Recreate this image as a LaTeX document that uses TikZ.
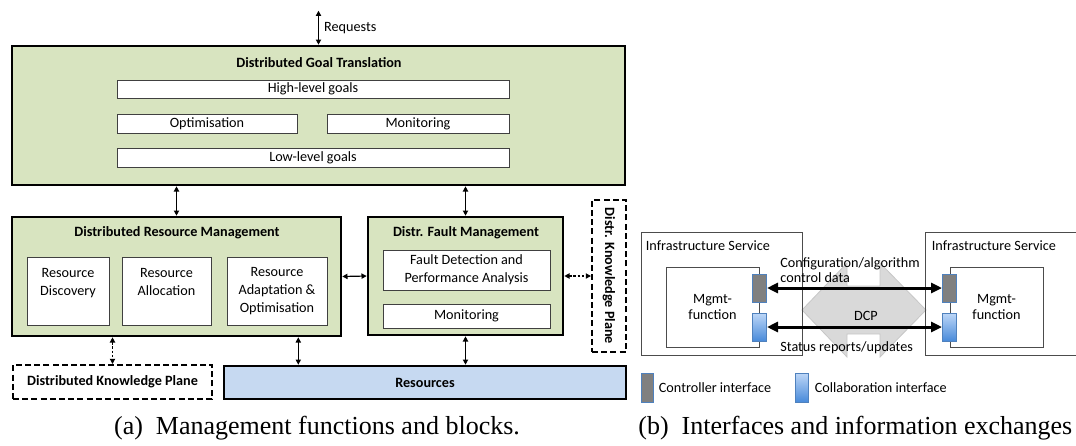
\documentclass[tikz,border=0pt]{standalone}
\usepackage{fontspec}
\usepackage{graphicx}
\setmainfont{Carlito}
\newfontfamily\capfont{Liberation Serif}
\usepackage{tikz}
\usetikzlibrary{arrows.meta,positioning}

\definecolor{blockgreen}{RGB}{216,228,192}
\definecolor{resblue}{RGB}{198,217,241}
\definecolor{ifborder}{RGB}{79,129,189}
\definecolor{ifgray}{RGB}{128,128,128}
\definecolor{coltop}{RGB}{190,215,247}
\definecolor{colbot}{RGB}{72,138,218}

\begin{document}
\begin{tikzpicture}[x=0.5pt,y=-0.5pt,
    font=\fontsize{7.1pt}{9.2pt}\selectfont,
    >={Triangle[length=2.6pt,width=2.6pt]},
    block/.style={draw,line width=1.3pt,fill=blockgreen,inner sep=0pt},
    sub/.style={draw=black!75,line width=0.5pt,fill=white,align=center,inner sep=0pt},
    head/.style={inner sep=0pt,font=\fontsize{7.1pt}{9.2pt}\selectfont\bfseries},
    plane/.style={draw,line width=1pt,dash pattern=on 3pt off 1.6pt,inner sep=0pt,
      font=\fontsize{7.1pt}{9.2pt}\selectfont\bfseries},
    link/.style={<->,line width=0.6pt},
    box/.style={draw=black!70,line width=0.5pt,inner sep=0pt,align=center,
      font=\fontsize{7.1pt}{8.3pt}\selectfont},
    ctl/.style={draw=ifborder,fill=ifgray,line width=0.5pt,minimum width=7pt,minimum height=14pt,inner sep=0pt},
    col/.style={draw=ifborder,top color=coltop,bottom color=colbot,line width=0.5pt,minimum width=7pt,minimum height=14pt,inner sep=0pt},
    bigarrow/.style={{Triangle[length=5.5pt,width=5pt]}-{Triangle[length=5.5pt,width=5pt]},line width=1.5pt},
    caption/.style={inner sep=0pt,font=\capfont\fontsize{13pt}{15pt}\selectfont}]
  \useasboundingbox (0,0) rectangle (1076,445);

  % (a) management functions and blocks
  \node[block,minimum width=306.5pt,minimum height=69.5pt] (dgt) at (318.5,115.5) {};
  \node[head] (dgt_t) at (319,63) {Distributed Goal Translation};
  \node[sub,minimum width=196pt,minimum height=9pt] (high) at (313,89) {High-level goals};
  \node[sub,minimum width=90pt,minimum height=9.5pt] (opt) at (207,123.5) {Optimisation};
  \node[sub,minimum width=91pt,minimum height=9.5pt] (mon_1) at (418,123.5) {Monitoring};
  \node[sub,minimum width=196pt,minimum height=9.5pt] (low) at (313,157.5) {Low-level goals};

  \node[block,minimum width=164.5pt,minimum height=59.5pt] (drm) at (176.5,276.5) {};
  \node[head] (drm_t) at (177,233) {Distributed Resource Management};
  \node[sub,minimum width=41pt,minimum height=34pt] (disc) at (68,291) {Resource\\Discovery\\~};
  \node[sub,minimum width=44.5pt,minimum height=34pt] (alloc) at (166.5,291) {Resource\\Allocation\\~};
  \node[sub,minimum width=50pt,minimum height=34pt] (adapt) at (277,291) {Resource\\Adaptation \&\\Optimisation};

  \node[block,minimum width=97.5pt,minimum height=59pt] (dfm) at (465.5,276) {};
  \node[head] (dfm_t) at (466,233) {Distr. Fault Management};
  \node[sub,minimum width=83.5pt,minimum height=20pt] (fdpa) at (466.5,270) {Fault Detection and\\Performance Analysis};
  \node[sub,minimum width=83.5pt,minimum height=12pt] (mon_2) at (466.5,316) {Monitoring};

  \node[plane,minimum width=17pt,minimum height=76pt] (dkp_v) at (609,276) {\rotatebox{-90}{Distr. Knowledge Plane}};
  \node[plane,minimum width=99.5pt,minimum height=17pt] (dkp_h) at (112.5,382) {Distributed Knowledge Plane};
  \node[block,fill=resblue,minimum width=201pt,minimum height=16.5pt,head] (res) at (425,382.5) {Resources};

  \coordinate (req) at ([yshift=17pt]dgt.north);
  \coordinate (drm_r) at ([xshift=-22pt]drm.south east);
  \path[link]
    (req) edge node[right,inner sep=2.5pt] {Requests} (dgt.north)
    (dgt.south -| drm.north) edge (drm.north)
    (dgt.south -| dfm.north) edge (dfm.north)
    (drm.east) edge (dfm.west)
    (drm_r) edge (drm_r |- res.north)
    (dfm.south) edge (dfm.south |- res.north);
  \path[link,dash pattern=on 1.2pt off 0.9pt]
    (dfm.east) edge (dfm.east -| dkp_v.west)
    (drm.south -| dkp_h.north) edge (dkp_h.north);

  % (b) interfaces and information exchanges
  \fill[black!15,draw=black!22,line width=0.4pt]
    (802,310) -- (847,263) -- (847,286) -- (880,286) -- (880,263) -- (926,310)
    -- (880,357) -- (880,334) -- (847,334) -- (847,357) -- cycle;

  \node[box,minimum width=80.5pt,minimum height=61.5pt] (is_1) at (721.5,293.5) {};
  \node[box,minimum width=80.5pt,minimum height=61.5pt] (is_2) at (1005.5,293.5) {};
  \node[inner sep=0pt,anchor=north west,below right=4.5pt and 2.5pt of is_1.north west] (is_1t) {Infrastructure Service};
  \node[inner sep=0pt,anchor=north west,below right=4.5pt and 3.5pt of is_2.north west] (is_2t) {Infrastructure Service};
  \node[box,fill=white,minimum width=46.5pt,minimum height=40pt] (mf_1) at (712.5,307) {Mgmt-\\function};
  \node[box,fill=white,minimum width=46.5pt,minimum height=40pt] (mf_2) at (996.5,307) {Mgmt-\\function};
  \node[ctl] (ctl_1) at ([yshift=9.5pt]mf_1.east) {};
  \node[col] (col_1) at ([yshift=-10pt]mf_1.east) {};
  \node[ctl] (ctl_2) at ([yshift=9.5pt]mf_2.west) {};
  \node[col] (col_2) at ([yshift=-10pt]mf_2.west) {};

  \path[bigarrow]
    (ctl_1) edge (ctl_2)
    (col_1) edge (col_2);

  \node[inner sep=0pt,anchor=west,align=left,font=\fontsize{7.1pt}{7.6pt}\selectfont] (cfg) at (780,270) {Configuration/algorithm\\control data};
  \node[inner sep=0pt,anchor=west] (sts) at (780,348) {Status reports/updates};
  \node[inner sep=0pt] (dcp) at (866,316) {DCP};

  % legend
  \node[ctl,minimum height=14.5pt,minimum width=6pt] (key_1) at (647,387.5) {};
  \node[inner sep=0pt,right=2.5pt of key_1] (key_1t) {Controller interface};
  \node[col,minimum height=14.5pt,minimum width=6.5pt] (key_2) at (801.5,387.5) {};
  \node[inner sep=0pt,right=3pt of key_2] (key_2t) {Collaboration interface};

  % captions
  \node[caption] (cap_a) at (317,428) {(a)\enspace Management functions and blocks.};
  \node[caption,anchor=west] (cap_b) at (638,428) {(b)\enspace Interfaces and information exchanges};
\end{tikzpicture}
\end{document}
